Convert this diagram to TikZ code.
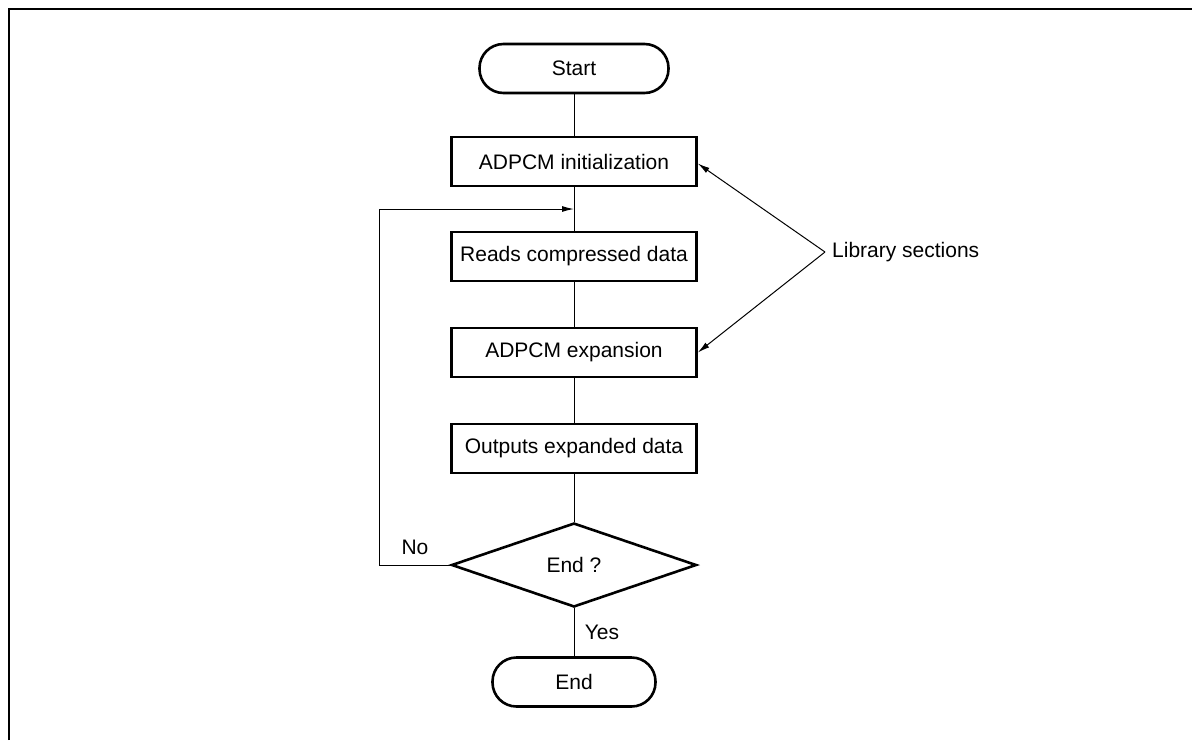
\documentclass[tikz,border=0pt]{standalone}
\usepackage{fontspec}
\setmainfont{Liberation Sans}
\usetikzlibrary{arrows.meta,shapes.geometric}
\begin{document}
\begin{tikzpicture}[x=1pt,y=-1pt,
  every node/.style={font=\fontsize{21}{25}\selectfont},
  procbox/.style={draw,line width=2.6pt,minimum width=245pt,minimum height=49pt,inner sep=0pt},
  termbox/.style={draw,line width=2.6pt,rounded corners=24pt,minimum height=49pt,inner sep=0pt},
  decbox/.style={draw,diamond,line width=2.6pt,minimum width=245pt,minimum height=84pt,inner sep=0pt,aspect=2.9},
  flow/.style={line width=1pt},
  pointer/.style={line width=1pt,-{Latex[length=12pt,width=6pt]}},
  lbl/.style={inner sep=0pt}]
\useasboundingbox (0,0) rectangle (1192,740);
% partial frame: top and left edges
\draw[line width=2pt] (9,740) -- (9,9) -- (1192,9);

\node[termbox,minimum width=189pt] (start) at (574,68.5) {Start};
\node[procbox] (init) at (574,161.5) {ADPCM initialization};
\node[procbox] (read) at (574,256.5) {Reads compressed data};
\node[procbox] (exp) at (574,352.5) {ADPCM expansion};
\node[procbox] (out) at (574,448.5) {Outputs expanded data};
\node[decbox] (dec) at (574,565) {End ?};
\node[termbox,minimum width=163pt] (end) at (574,682) {End};

\node[lbl] (no) at (415,547) {No};
\node[lbl] (yes) at (602,632) {Yes};

% main flow
\draw[flow] (start.south) -- (init.north);
\draw[flow] (init.south) -- (read.north);
\draw[flow] (read.south) -- (exp.north);
\draw[flow] (exp.south) -- (out.north);
\draw[flow] (out.south) -- (dec.north);
\draw[flow] (dec.south) -- (end.north);

% loop back from the decision
\coordinate (loopd) at (379,565);
\coordinate (loopu) at (379,209);
\coordinate (loopin) at (574,209);
\draw[flow] (dec.west) -- (loopd) -- (loopu);
\draw[pointer] (loopu) -- (loopin);

% library annotation
\coordinate (apex) at (825,252);
\node[lbl,anchor=west] (lib) at (832,252) {Library sections};
\draw[pointer] (apex) -- ([yshift=-2pt]init.east);
\draw[pointer] (apex) -- (exp.east);
\end{tikzpicture}
\end{document}
